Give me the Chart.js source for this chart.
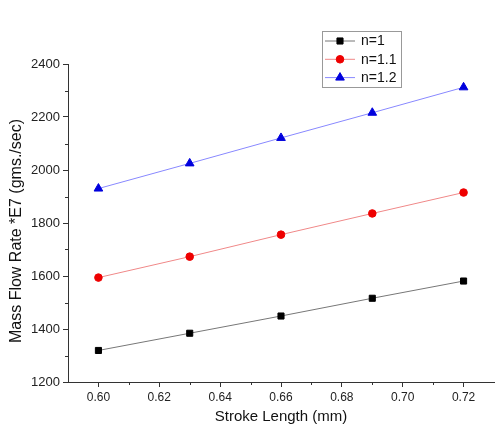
<!DOCTYPE html>
<html>
<head>
<meta charset="utf-8">
<script src="https://cdn.jsdelivr.net/npm/chart.js@4/dist/chart.umd.min.js"></script>
<style>
  html, body { margin: 0; padding: 0; background: #fff; overflow: hidden; }
  #wrap { width: 500px; height: 430px; }
</style>
</head>
<body>
<div id="wrap"><canvas id="c"></canvas></div>
<script>
/* stroke length vs mass flow rate, three values of n */
const strokeLength = [0.60, 0.63, 0.66, 0.69, 0.72];
const flowN1 = [1319, 1384, 1449, 1516, 1581];
const flowN11 = [1594, 1673, 1756, 1836, 1915];
const flowN12 = [1930, 2025, 2121, 2216, 2312];
const seriesLabels = ['n=1', 'n=1.1', 'n=1.2'];
const xTicks = [0.60, 0.62, 0.64, 0.66, 0.68, 0.70, 0.72];
const yTicks = [1200, 1400, 1600, 1800, 2000, 2200, 2400];
const yTitle = 'Mass Flow Rate *E7 (gms./sec)';

const FONT = 'Liberation Sans, Arial, sans-serif';

function pts(ys) {
  return strokeLength.map(function (x, i) { return { x: x, y: ys[i] }; });
}

function series(label, ys, line, mark, style, r) {
  return {
    label: label, data: pts(ys),
    borderColor: line, borderWidth: 1,
    pointStyle: style, pointRadius: r, pointHoverRadius: r,
    pointBackgroundColor: mark, pointBorderColor: mark, pointBorderWidth: 1,
    tension: 0, fill: false
  };
}

/* minor ticks, y title (sits a bit below the axis middle) and the legend box */
const extras = {
  id: 'extras',
  afterDraw: function (chart) {
    const ctx = chart.ctx, xs = chart.scales.x, ys = chart.scales.y, ca = chart.chartArea;
    ctx.save();
    ctx.strokeStyle = '#333';
    ctx.lineWidth = 1;
    ctx.beginPath();
    for (let i = 0; i < xTicks.length - 1; i++) {
      const px = Math.round(xs.getPixelForValue((xTicks[i] + xTicks[i + 1]) / 2)) + 0.5;
      ctx.moveTo(px, ca.bottom); ctx.lineTo(px, ca.bottom + 3);
    }
    for (let i = 0; i < yTicks.length - 1; i++) {
      const py = Math.round(ys.getPixelForValue((yTicks[i] + yTicks[i + 1]) / 2)) + 0.5;
      ctx.moveTo(ca.left, py); ctx.lineTo(ca.left - 3, py);
    }
    ctx.stroke();

    ctx.save();
    ctx.translate(17, 231);
    ctx.rotate(-Math.PI / 2);
    ctx.font = '16px ' + FONT;
    ctx.fillStyle = '#111';
    ctx.textAlign = 'center';
    ctx.textBaseline = 'middle';
    ctx.fillText(yTitle, 0, 0);
    ctx.restore();

    // legend
    const bx = 322.5, by = 31.5, bw = 79, bh = 56;
    ctx.strokeStyle = '#999';
    ctx.fillStyle = '#fff';
    ctx.fillRect(bx, by, bw, bh);
    ctx.strokeRect(bx, by, bw, bh);
    ctx.font = '14px ' + FONT;
    ctx.textBaseline = 'middle';
    chart.data.datasets.forEach(function (ds, i) {
      const y = 41 + i * 18.3;
      ctx.strokeStyle = ds.borderColor;
      ctx.beginPath(); ctx.moveTo(325, y); ctx.lineTo(355, y); ctx.stroke();
      ctx.fillStyle = ds.pointBackgroundColor;
      ctx.strokeStyle = ds.pointBorderColor;
      Chart.helpers.drawPoint(ctx, { pointStyle: ds.pointStyle, radius: ds.pointRadius, borderWidth: 1 }, 340, y);
      ctx.fillStyle = '#111';
      ctx.fillText(ds.label, 361, y + 0.5);
    });
    ctx.restore();
  }
};

new Chart(document.getElementById('c'), {
  type: 'line',
  data: {
    datasets: [
      series(seriesLabels[0], flowN1, '#777', '#000', 'rect', 4.3),
      series(seriesLabels[1], flowN11, '#f08888', '#ee0000', 'circle', 3.8),
      series(seriesLabels[2], flowN12, '#8888ff', '#0000dd', 'triangle', 5)
    ]
  },
  options: {
    responsive: true, maintainAspectRatio: false, animation: false,
    layout: { padding: { top: 64, right: 1, left: 0, bottom: 0 } },
    plugins: { legend: { display: false }, tooltip: { enabled: false } },
    scales: {
      x: {
        type: 'linear', min: 0.59, max: 0.73,
        afterBuildTicks: function (s) { s.ticks = xTicks.map(function (v) { return { value: v }; }); },
        afterFit: function (s) { s.height = 48; },
        grid: { drawOnChartArea: false, tickLength: 5, color: '#333' },
        border: { color: '#333', width: 1 },
        ticks: { padding: 3, maxRotation: 0, color: '#222', font: { family: FONT, size: 12 },
          callback: function (v) { return v.toFixed(2); } },
        title: { display: true, text: 'Stroke Length (mm)', color: '#111', font: { family: FONT, size: 15 }, padding: { top: 2 } }
      },
      y: {
        type: 'linear', min: 1200, max: 2400,
        afterBuildTicks: function (s) { s.ticks = yTicks.map(function (v) { return { value: v }; }); },
        afterFit: function (s) { s.width = 68; },
        grid: { drawOnChartArea: false, tickLength: 5, color: '#333' },
        border: { color: '#333', width: 1 },
        ticks: { padding: 3, color: '#222', font: { family: FONT, size: 13 },
          callback: function (v) { return String(v); } }
      }
    }
  },
  plugins: [extras]
});
</script>
</body>
</html>
